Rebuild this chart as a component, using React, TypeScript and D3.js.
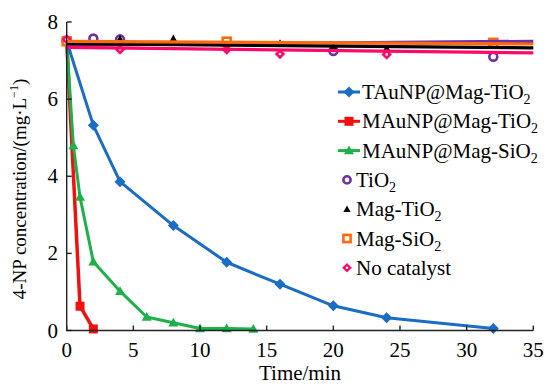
import React from "react";
import * as d3 from "d3";

// ---- data ----
const tauTimes = [0, 2, 4, 8, 12, 16, 20, 24, 32];
const tauValues = [7.5, 5.32, 3.86, 2.72, 1.77, 1.2, 0.64, 0.33, 0.05];

const mauTiTimes = [0, 1, 2];
const mauTiValues = [7.5, 0.63, 0.04];

const mauSiTimes = [0, 0.5, 1, 2, 4, 6, 8, 10, 12, 14];
const mauSiValues = [7.5, 4.8, 3.46, 1.78, 1.02, 0.35, 0.2, 0.05, 0.05, 0.04];

// flat series: marker data + fitted line endpoints
const tio2Times = [0, 2, 4, 20, 32];
const tio2Values = [7.5, 7.57, 7.55, 7.25, 7.1];
const tio2Line = [7.4, 7.5];

const magTiTimes = [0, 4, 8, 16, 20, 24];
const magTiValues = [7.5, 7.56, 7.57, 7.45, 7.36, 7.32];
const magTiLine = [7.44, 7.33];

const magSiTimes = [0, 12, 32];
const magSiValues = [7.5, 7.49, 7.46];
const magSiLine = [7.5, 7.43];

const noCatTimes = [0, 4, 12, 16, 24];
const noCatValues = [7.55, 7.29, 7.29, 7.17, 7.16];
const noCatLine = [7.34, 7.2];

const lineEndTimes = [0, 35];

const xTicks = [0, 5, 10, 15, 20, 25, 30, 35];
const yTicks = [0, 2, 4, 6, 8];

const legendNames = [
  ["TAuNP@Mag-TiO", "2"],
  ["MAuNP@Mag-TiO", "2"],
  ["MAuNP@Mag-SiO", "2"],
  ["TiO", "2"],
  ["Mag-TiO", "2"],
  ["Mag-SiO", "2"],
  ["No catalyst", ""],
];

const C = {
  blue: "#1a6cc4",
  red: "#f01010",
  green: "#1eb04a",
  purple: "#7030a0",
  black: "#000000",
  orange: "#ff6a10",
  pink: "#ff0a6a",
};

const FS = 21;
const TX = { fontFamily: "Liberation Serif" } as React.CSSProperties;

const x = d3.scaleLinear().domain([0, 35]).range([66.7, 533.3]);
const y = d3.scaleLinear().domain([0, 8]).range([330.5, 22]);

const line = d3
  .line<[number, number]>()
  .x((d) => x(d[0]))
  .y((d) => y(d[1]));

function zip(t: number[], v: number[]): [number, number][] {
  return t.map((tt, i) => [tt, v[i]]);
}

function marker(kind: string, cx: number, cy: number, color: string, key: string, size = 1) {
  switch (kind) {
    case "diamond": {
      const r = 5.5 * size;
      return <path key={key} d={`M${cx},${cy - r}L${cx + r},${cy}L${cx},${cy + r}L${cx - r},${cy}Z`} fill={color} />;
    }
    case "square": {
      const r = 4.5 * size;
      return <rect key={key} x={cx - r} y={cy - r} width={2 * r} height={2 * r} fill={color} />;
    }
    case "triangle": {
      const r = 5 * size;
      return <path key={key} d={`M${cx},${cy - r}L${cx + r},${cy + r * 0.75}L${cx - r},${cy + r * 0.75}Z`} fill={color} />;
    }
    case "ring":
      return <circle key={key} cx={cx} cy={cy} r={3.6 * size} fill="white" stroke={color} strokeWidth={2.6} />;
    case "smalltri": {
      const r = 3.6 * size;
      return <path key={key} d={`M${cx},${cy - r}L${cx + r},${cy + r * 0.8}L${cx - r},${cy + r * 0.8}Z`} fill={color} />;
    }
    case "hsquare": {
      const r = 3.6 * size;
      return <rect key={key} x={cx - r} y={cy - r} width={2 * r} height={2 * r} fill="white" stroke={color} strokeWidth={2.6} />;
    }
    case "hdiamond": {
      const r = 4.8 * size;
      return (
        <g key={key}>
          <path d={`M${cx},${cy - r}L${cx + r},${cy}L${cx},${cy + r}L${cx - r},${cy}Z`} fill={color} />
          <circle cx={cx} cy={cy} r={1.3} fill="white" />
        </g>
      );
    }
  }
  return null;
}

const steepSeries = [
  { times: mauTiTimes, values: mauTiValues, color: C.red, m: "square", w: 3.5 },
  { times: mauSiTimes, values: mauSiValues, color: C.green, m: "triangle", w: 3 },
  { times: tauTimes, values: tauValues, color: C.blue, m: "diamond", w: 3 },
];

const flatSeries = [
  { times: tio2Times, values: tio2Values, lineV: tio2Line, color: C.purple, m: "ring" },
  { times: magTiTimes, values: magTiValues, lineV: magTiLine, color: C.black, m: "smalltri" },
  { times: magSiTimes, values: magSiValues, lineV: magSiLine, color: C.orange, m: "hsquare" },
  { times: noCatTimes, values: noCatValues, lineV: noCatLine, color: C.pink, m: "hdiamond" },
];

const legendItems = [
  { color: C.blue, m: "diamond", line: true },
  { color: C.red, m: "square", line: true },
  { color: C.green, m: "triangle", line: true },
  { color: C.purple, m: "ring", line: false },
  { color: C.black, m: "smalltri", line: false },
  { color: C.orange, m: "hsquare", line: false },
  { color: C.pink, m: "hdiamond", line: false },
];

export default function App() {
  const x0 = x(0);
  const y0 = y(0);
  return (
    <svg width={547} height={384} style={{ position: "fixed", left: 0, top: 0, background: "white" }}>
      <rect width={547} height={384} fill="white" />
      {/* steep series */}
      {steepSeries.map((s, i) => (
        <g key={"s" + i}>
          <path d={line(zip(s.times, s.values)) || ""} fill="none" stroke={s.color} strokeWidth={s.w} strokeLinejoin="round" />
          {s.times.map((t, j) => marker(s.m, x(t), y(s.values[j]), s.color, "m" + j))}
        </g>
      ))}
      {/* flat series: markers under the lines */}
      {flatSeries.map((s, i) => (
        <g key={"fm" + i}>{s.times.map((t, j) => marker(s.m, x(t), y(s.values[j]), s.color, "m" + j, 1.1))}</g>
      ))}
      {flatSeries.map((s, i) => (
        <g key={"f" + i}>
          <path d={line(zip(lineEndTimes, s.lineV)) || ""} fill="none" stroke={s.color} strokeWidth={3.2} />
        </g>
      ))}
      {/* axes */}
      <g stroke="#222" strokeWidth={1.4} fill="none">
        <path d={`M${x0},${y(8)}V${y0}H${x(35)}`} />
        {xTicks.map((t) => (
          <path key={"xt" + t} d={`M${x(t)},${y0}v-5`} />
        ))}
        {yTicks.map((t) => (
          <path key={"yt" + t} d={`M${x0},${y(t)}h5`} />
        ))}
      </g>
      {xTicks.map((t) => (
        <text key={"xl" + t} x={x(t)} y={357} textAnchor="middle" fontSize={FS} fontFamily="Liberation Serif" style={TX}>
          {t}
        </text>
      ))}
      {yTicks.map((t) => (
        <text key={"yl" + t} x={58} y={y(t) + 7} textAnchor="end" fontSize={FS} fontFamily="Liberation Serif" style={TX}>
          {t}
        </text>
      ))}
      <text x={(x0 + x(35)) / 2} y={380} textAnchor="middle" fontSize={FS} fontFamily="Liberation Serif" style={TX}>
        Time/min
      </text>
      <text
        transform={`translate(26,189) rotate(-90)`}
        textAnchor="middle"
        fontSize={19}
        fontFamily="Liberation Serif"
        style={TX}
      >
        4-NP concentration/(mg·L
        <tspan fontSize={12} dy={-8}>−1</tspan>
        <tspan dy={8}>)</tspan>
      </text>
      {/* legend */}
      {legendItems.map((it, i) => {
        const ly = 92 + i * 29.3;
        const mx = it.line ? 349 : 347;
        return (
          <g key={"lg" + i}>
            {it.line && <path d={`M338,${ly}H360`} stroke={it.color} strokeWidth={3} />}
            {marker(it.m, mx, ly, it.color, "lm", 1)}
            <text x={it.line ? 362 : 356} y={ly + 7} fontSize={FS} fontFamily="Liberation Serif" style={TX}>
              {legendNames[i][0]}
              {legendNames[i][1] && (
                <tspan fontSize={14} dy={5}>
                  {legendNames[i][1]}
                </tspan>
              )}
            </text>
          </g>
        );
      })}
    </svg>
  );
}
